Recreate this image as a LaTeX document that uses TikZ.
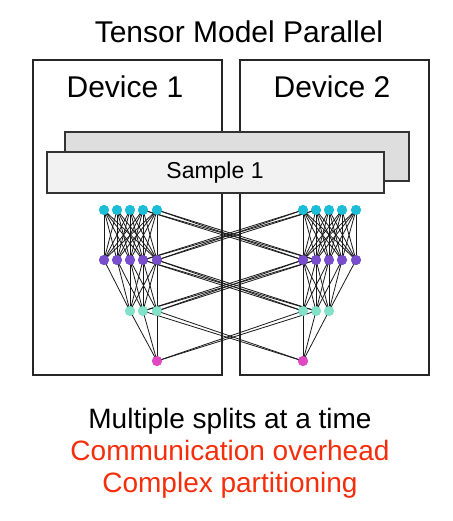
\documentclass[tikz,border=0pt]{standalone}
\usepackage{fontspec}
\setmainfont{Liberation Sans}
\begin{document}
\begin{tikzpicture}[x=1pt,y=-1pt,
  devbox/.style={draw=black!85,line width=1.8pt},
  backslab/.style={draw=black!80,line width=1.5pt,fill=black!13},
  frontslab/.style={draw=black!80,line width=1.5pt,fill=black!5},
  nn/.style={circle,inner sep=0pt,minimum size=10pt},
  edge/.style={draw=black!90,line width=0.8pt},
  txt/.style={inner sep=0pt,anchor=base}
]
\definecolor{cyanc}{RGB}{28,190,215}
\definecolor{purc}{RGB}{120,78,205}
\definecolor{mintc}{RGB}{130,225,200}
\definecolor{magc}{RGB}{225,70,195}
\definecolor{redc}{RGB}{245,45,10}
\tikzset{cy/.style={nn,fill=cyanc},pu/.style={nn,fill=purc},mi/.style={nn,fill=mintc},ma/.style={nn,fill=magc}}
\useasboundingbox (0,0) rectangle (452,521);

\node[txt,font=\fontsize{30}{34}\selectfont] (title) at (239,43) {Tensor Model Parallel};

\draw[devbox] (33,60) rectangle (222,375);
\draw[devbox] (240,60) rectangle (429,375);
\coordinate (dev1) at (125,98);
\coordinate (dev2) at (332,98);
\node[txt,font=\fontsize{30}{34}\selectfont] (d1) at (dev1) {Device 1};
\node[txt,font=\fontsize{30}{34}\selectfont] (d2) at (dev2) {Device 2};

\draw[backslab] (65,132) rectangle (409,181);
\draw[frontslab] (47,152) rectangle (384,193);
\node[font=\fontsize{23}{26}\selectfont] (s1) at (215,172.5) {Sample 1};

% nodes left
\foreach \i/\x in {1/104,2/117,3/130,4/143,5/157}{
  \node[cy] (lc\i) at (\x,210) {};
  \node[pu] (lp\i) at (\x,260) {};
}
\foreach \i/\x in {1/130,2/143,3/157}{ \node[mi] (lg\i) at (\x,311) {}; }
\node[ma] (lm) at (157,361) {};
% nodes right
\foreach \i/\x in {1/303,2/316,3/329,4/342,5/356}{
  \node[cy] (rc\i) at (\x,210) {};
  \node[pu] (rp\i) at (\x,260) {};
}
\foreach \i/\x in {1/303,2/316,3/329}{ \node[mi] (rg\i) at (\x,311) {}; }
\node[ma] (rm) at (303,361) {};

% within-device edges
\foreach \i in {1,...,5}{\foreach \j in {1,...,5}{
  \path[edge] (lc\i.center) -- (lp\j.center);
  \path[edge] (rc\i.center) -- (rp\j.center);
}}
\foreach \i/\j in {1/1,2/1,2/2,3/1,3/2,3/3,4/1,4/2,4/3,5/1,5/2,5/3}{
  \path[edge] (lp\i.center) -- (lg\j.center);
}
\foreach \i/\j in {5/3,4/3,4/2,3/3,3/2,3/1,2/3,2/2,2/1,1/3,1/2,1/1}{
  \path[edge] (rp\i.center) -- (rg\j.center);
}
\foreach \j in {1,2,3}{
  \path[edge] (lg\j.center) -- (lm.center);
  \path[edge] (rg\j.center) -- (rm.center);
}
% cross-device edges
\foreach \a in {4,5}{\foreach \b in {1,2}{
  \path[edge] (lc\a.center) -- (rp\b.center);
  \path[edge] (lp\a.center) -- (rg\b.center);
}}
\foreach \a in {1,2}{\foreach \b in {4,5}{
  \path[edge] (rc\a.center) -- (lp\b.center);
}}
\foreach \a in {1,2}{\foreach \b in {2,3}{
  \path[edge] (rp\a.center) -- (lg\b.center);
}}
\foreach \a in {2,3}{ \path[edge] (lg\a.center) -- (rm.center); }
\foreach \a in {1,2}{ \path[edge] (rg\a.center) -- (lm.center); }

% redraw nodes on top of edges
\foreach \i/\x in {1/104,2/117,3/130,4/143,5/157}{
  \node[cy] at (\x,210) {};
  \node[pu] at (\x,260) {};
}
\foreach \x in {130,143,157}{ \node[mi] at (\x,311) {}; }
\node[ma] at (157,361) {};
\foreach \x in {303,316,329,342,356}{
  \node[cy] at (\x,210) {};
  \node[pu] at (\x,260) {};
}
\foreach \x in {303,316,329}{ \node[mi] at (\x,311) {}; }
\node[ma] at (303,361) {};

\node[txt,font=\fontsize{28}{32}\selectfont] (t1) at (230,428) {Multiple splits at a time};
\node[txt,font=\fontsize{28}{32}\selectfont,text=redc] (t2) at (230,460) {Communication overhead};
\node[txt,font=\fontsize{28}{32}\selectfont,text=redc] (t3) at (230,492) {Complex partitioning};
\end{tikzpicture}
\end{document}
